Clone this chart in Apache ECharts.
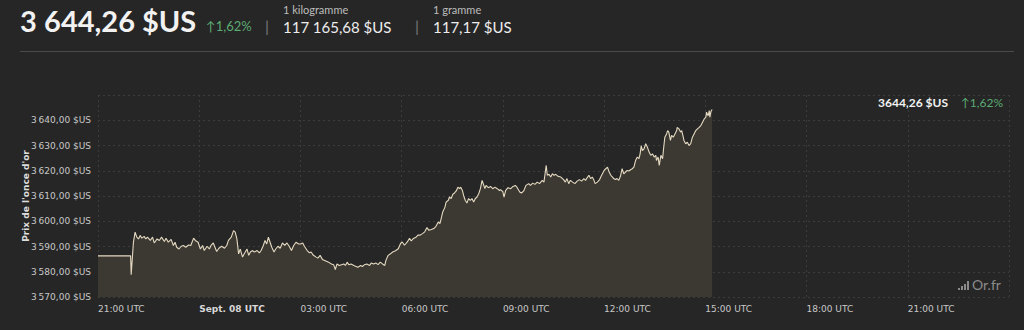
<!DOCTYPE html>
<html>
<head>
<meta charset="utf-8">
<script src="https://cdn.jsdelivr.net/npm/echarts@6/dist/echarts.min.js"></script>
<style>
  html, body { margin: 0; padding: 0; background: #262626; }
  #chart { width: 1024px; height: 330px; }
</style>
</head>
<body>
<div id="chart"></div>
<script>
// ---- Data ----
const headerPrice = '3\u202F644,26 $US';
const headerChange = '1,62%';
const kiloLabel = '1 kilogramme';
const kiloPrice = '117\u202F165,68 $US';
const gramLabel = '1 gramme';
const gramPrice = '117,17 $US';
const lastPriceLabel = '3644,26 $US';
const yAxisTitle = "Prix de l'once d'or";
const watermark = 'Or.fr';

// x tick labels every 3 hours, starting Sept. 07 21:00 UTC
const xTickLabels = ['21:00 UTC', 'Sept. 08 UTC', '03:00 UTC', '06:00 UTC', '09:00 UTC',
  '12:00 UTC', '15:00 UTC', '18:00 UTC', '21:00 UTC', 'Sept. 09 UTC'];

// minutes since Sept. 07 21:00 UTC
const minutesSinceStart = [
  0, 58, 59, 63, 66, 69, 72, 75, 78, 82, 85, 88, 93, 97, 100, 105, 109, 113, 118, 121,
  125, 130, 134, 137, 140, 144, 148, 152, 156, 161, 165, 170, 173,
  178, 182, 186, 189, 194, 198, 201, 205, 208, 211, 215, 220, 225, 229, 232, 237, 241,
  244, 247, 250, 253, 257, 260, 265, 268, 271, 275, 278, 283, 287, 290, 294, 297, 300,
  303, 306, 309, 313, 316, 320, 324, 328, 332, 336, 340, 344, 348, 352, 357,
  360, 364, 367, 372, 376, 379, 383, 388, 391, 395, 399, 403, 407, 410, 415, 419, 422,
  425, 429, 433, 437, 440, 443, 446, 450, 455, 459, 462, 467, 470, 474, 478, 483, 486,
  490, 494, 498, 502, 506, 510, 512, 516, 520, 524, 529, 534,
  538, 541, 545, 550, 554, 557, 561, 566, 569, 573, 577, 581, 585, 588, 593, 597, 601,
  605, 608, 611, 613, 617, 619, 623, 625, 628, 631, 634, 637, 640, 643, 645, 648, 650,
  653, 656, 659, 662, 665, 668, 671, 674, 677, 680, 683, 685, 688, 690, 694, 698, 702,
  706, 710, 714,
  716, 720, 722, 725, 729, 734, 738, 742, 745, 750, 753, 757, 761, 766, 769, 773, 777,
  781, 785, 790, 793, 795, 797, 799, 802, 805, 808, 811, 814, 818, 823, 826, 828, 831,
  834, 837, 840, 844, 848, 852, 856, 860, 864, 867, 870, 873, 876, 879, 882, 884, 888, 892,
  894, 897, 900, 903, 906, 909, 912, 915, 917, 920, 923, 926, 929, 932, 935, 938, 941,
  944, 947, 950, 953, 956, 959, 962, 964, 966, 968, 971, 974, 977, 980, 983, 986, 989,
  992, 993, 996, 998, 1001, 1004, 1006, 1008, 1011, 1013, 1015, 1018, 1020, 1023, 1026,
  1029, 1030, 1033, 1036, 1038, 1040, 1042, 1045, 1048, 1051, 1054, 1057, 1060, 1063,
  1066, 1069, 1072, 1075, 1078, 1081, 1082, 1085, 1087, 1088, 1090, 1092
];

const prices = [
  3586.3, 3586.3, 3578.8, 3591.7, 3595.7, 3593.7, 3593.0, 3594.4, 3593.3, 3594.0, 3593.0, 3593.7, 3592.4, 3593.7, 3591.4, 3593.0, 3592.4, 3593.7, 3592.0, 3593.3,
  3591.7, 3592.8, 3590.4, 3591.7, 3589.7, 3589.0, 3590.1, 3590.4, 3589.7, 3590.6, 3590.4, 3593.3, 3592.4,
  3591.7, 3589.0, 3590.4, 3588.4, 3590.1, 3589.0, 3590.4, 3591.4, 3589.7, 3588.0, 3589.3, 3590.1, 3589.3, 3590.4, 3592.4, 3593.7, 3596.3,
  3595.7, 3593.0, 3587.1, 3589.0, 3585.8, 3587.1, 3589.0, 3586.5, 3587.8, 3588.4, 3587.8, 3588.4, 3587.5, 3588.4, 3590.4, 3592.4, 3591.0,
  3593.7, 3591.7, 3589.7, 3587.8, 3589.0, 3590.1, 3589.3, 3591.4, 3590.4, 3591.4, 3590.1, 3588.4, 3590.4, 3591.7, 3591.0,
  3591.0, 3591.4, 3590.1, 3588.4, 3587.5, 3587.8, 3586.5, 3585.8, 3585.4, 3586.5, 3584.9, 3584.5, 3584.1, 3583.8, 3583.1, 3582.8, 3580.9,
  3583.1, 3582.5, 3582.8, 3583.1, 3582.5, 3583.8, 3582.8, 3583.1, 3582.5, 3582.1, 3581.8, 3582.5, 3582.1, 3582.8, 3583.1, 3582.5, 3583.5,
  3583.1, 3583.5, 3582.8, 3583.8, 3583.1, 3582.5, 3584.5, 3586.5, 3587.1, 3587.8, 3588.3, 3589.1,
  3591.2, 3591.8, 3590.5, 3591.8, 3593.2, 3592.2, 3593.2, 3593.8, 3594.5, 3594.5, 3595.1, 3595.8, 3597.5, 3596.5, 3596.7, 3597.1, 3598.0,
  3599.7, 3599.1, 3601.7, 3603.7, 3605.6, 3607.6, 3608.3, 3609.6, 3609.0, 3610.7, 3611.2, 3612.0, 3613.5, 3612.9, 3613.5, 3612.2, 3610.3,
  3608.3, 3607.2, 3609.0, 3608.3, 3609.0, 3607.6, 3609.0, 3609.6, 3610.9, 3612.9, 3616.2, 3614.9, 3612.9, 3614.2, 3613.3, 3613.8, 3612.9,
  3613.5, 3612.9, 3612.2,
  3612.5, 3611.6, 3609.6, 3612.2, 3613.3, 3612.9, 3613.8, 3614.2, 3613.5, 3611.6, 3611.2, 3612.0, 3614.2, 3614.9, 3614.2, 3615.1, 3614.6,
  3615.5, 3614.9, 3616.2, 3615.5, 3618.8, 3622.1, 3618.2, 3618.6, 3617.5, 3618.8, 3618.2, 3618.6, 3617.8, 3617.5, 3616.9, 3616.5, 3615.5,
  3616.9, 3614.9, 3616.2, 3615.5, 3614.9, 3615.9, 3616.5, 3615.9, 3616.9, 3616.2, 3617.3, 3618.2, 3616.9, 3617.5, 3616.2, 3614.9, 3615.5, 3616.5,
  3617.5, 3618.8, 3620.1, 3620.8, 3621.4, 3619.5, 3618.2, 3617.5, 3616.9, 3616.5, 3616.9, 3616.2, 3617.8, 3620.8, 3618.8, 3619.5, 3620.1,
  3619.9, 3620.4, 3620.8, 3621.4, 3624.1, 3625.4, 3624.8, 3626.7, 3630.0, 3628.0, 3628.7, 3630.7, 3629.3, 3627.4, 3626.1, 3626.7, 3625.4,
  3626.1, 3624.1, 3625.4, 3622.1, 3626.1, 3624.8, 3629.3, 3633.3, 3634.6, 3635.9, 3635.3, 3632.0, 3634.0, 3633.3, 3634.6,
  3635.9, 3637.2, 3636.6, 3635.3, 3635.9, 3634.0, 3632.0, 3630.7, 3631.3, 3630.0, 3630.7, 3633.3, 3634.6, 3635.9,
  3636.6, 3637.2, 3637.9, 3639.2, 3640.5, 3641.2, 3643.2, 3641.8, 3643.8, 3641.2, 3643.5, 3644.26
];

// ---- Chart ----
const seriesData = minutesSinceStart.map((m, i) => [m, prices[i]]);

function fmtPrice(v) {
  const parts = v.toFixed(2).split('.');
  const int = parts[0].replace(/\B(?=(\d{3})+(?!\d))/g, '\u202F');
  return int + ',' + parts[1] + ' $US';
}

const chart = echarts.init(document.getElementById('chart'), null, { renderer: 'svg' });
const axisFont = 'Verdana, "DejaVu Sans", sans-serif';
const headFont = 'Lato, "Open Sans", sans-serif';

chart.setOption({
  backgroundColor: '#262626',
  animation: false,
  grid: { left: 98, right: 15, top: 95, bottom: 33 },
  xAxis: {
    type: 'value',
    min: 0, max: 1620, interval: 180,
    axisLine: { show: false },
    axisTick: { show: false },
    splitLine: { show: true, lineStyle: { color: '#3c3c3c', type: [2, 3], width: 1 } },
    axisLabel: {
      showMaxLabel: false,
      align: 'left',
      margin: 7,
      color: '#c8c8c8',
      fontFamily: axisFont,
      fontSize: 9,
      formatter: (v) => {
        const lbl = xTickLabels[Math.round(v / 180)] || '';
        return lbl.indexOf('Sept') === 0 ? '{b|' + lbl + '}' : lbl;
      },
      rich: { b: { fontWeight: 'bold', color: '#d8d8d8', fontFamily: axisFont, fontSize: 9 } }
    }
  },
  yAxis: {
    type: 'value',
    min: 3570, max: 3650, interval: 10,
    name: yAxisTitle,
    nameLocation: 'middle',
    nameRotate: 90,
    nameGap: 68,
    nameMoveOverlap: false,
    nameTextStyle: { color: '#dcdcdc', fontWeight: 'bold', fontSize: 9, fontFamily: axisFont },
    axisLine: { show: false },
    axisTick: { show: false },
    splitLine: { show: true, lineStyle: { color: '#3c3c3c', type: [2, 3], width: 1 } },
    axisLabel: {
      showMaxLabel: false,
      margin: 7,
      color: '#c8c8c8',
      fontFamily: axisFont,
      fontSize: 9,
      formatter: (v) => fmtPrice(v)
    }
  },
  series: [{
    type: 'line',
    data: seriesData,
    showSymbol: false,
    smooth: false,
    lineStyle: { color: '#e4d9c0', width: 1.1 },
    areaStyle: { color: '#3c3933', opacity: 1 },
    z: 3
  }],
  graphic: [
    { type: 'text', left: 20, top: 6, style: { text: headerPrice, fill: '#f2f2f2', font: 'bold 29px ' + headFont } },
    { type: 'text', left: 206, top: 19, style: { text: '\u2191' + headerChange, fill: '#5bab72', font: '13px ' + headFont } },
    { type: 'text', left: 265, top: 17, style: { text: '|', fill: '#777', font: '16px ' + headFont } },
    { type: 'text', left: 283, top: 4, style: { text: kiloLabel, fill: '#bdbdbd', font: '11px ' + headFont } },
    { type: 'text', left: 283, top: 19, style: { text: kiloPrice, fill: '#ededed', font: '15px ' + headFont } },
    { type: 'text', left: 415, top: 17, style: { text: '|', fill: '#777', font: '16px ' + headFont } },
    { type: 'text', left: 433, top: 4, style: { text: gramLabel, fill: '#bdbdbd', font: '11px ' + headFont } },
    { type: 'text', left: 433, top: 19, style: { text: gramPrice, fill: '#ededed', font: '15px ' + headFont } },
    { type: 'rect', shape: { x: 20, y: 51, width: 994, height: 1 }, style: { fill: '#4a4a4a' } },
    { type: 'text', right: 76, top: 96, style: { text: lastPriceLabel, fill: '#f2f2f2', font: 'bold 12px ' + headFont } },
    { type: 'text', right: 21, top: 96, style: { text: '\u2191' + headerChange, fill: '#5bab72', font: '12px ' + headFont } },
    { type: 'rect', shape: { x: 958, y: 288, width: 2, height: 2 }, style: { fill: '#8a8a8a' } },
    { type: 'rect', shape: { x: 961, y: 286, width: 2, height: 4 }, style: { fill: '#8a8a8a' } },
    { type: 'rect', shape: { x: 964, y: 284, width: 2, height: 6 }, style: { fill: '#8a8a8a' } },
    { type: 'rect', shape: { x: 967, y: 281, width: 2, height: 9 }, style: { fill: '#8a8a8a' } },
    { type: 'text', left: 972, top: 277, style: { text: watermark, fill: '#8a8a8a', font: '14px ' + headFont } }
  ]
});
</script>
</body>
</html>
